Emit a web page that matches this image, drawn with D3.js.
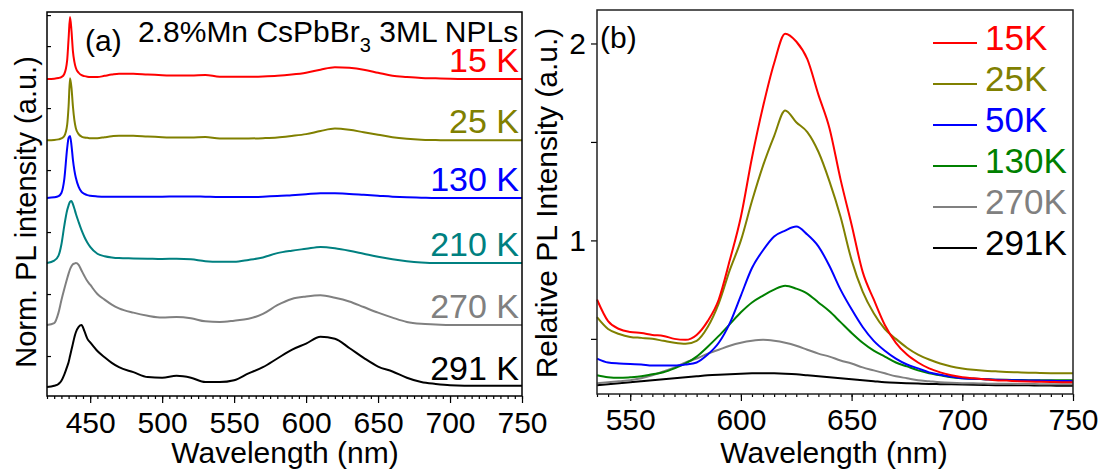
<!DOCTYPE html>
<html>
<head>
<meta charset="utf-8">
<script src="https://cdn.jsdelivr.net/npm/d3@7/dist/d3.min.js"></script>
<style>
body { margin: 0; background: #fff; }
svg { font-family: "Liberation Sans", Arial, sans-serif; }
</style>
</head>
<body>
<div id="visHolder"></div>
<script>
// ---- panel (a): normalised PL, stacked ----
const wlA = [420, 425, 428, 430, 432, 434, 435, 436, 437, 438,
             439, 440, 442, 444, 446, 448, 450, 455, 460, 465,
             470, 480, 490, 500, 510, 520, 530, 540, 550, 560,
             570, 580, 590, 600, 610, 620, 630, 640, 650, 660,
             670, 680, 690, 700, 720, 750];
const a15 = [0, 0.005, 0.015, 0.03, 0.08, 0.3, 0.65, 1.0, 0.78, 0.45,
             0.28, 0.18, 0.1, 0.06, 0.045, 0.035, 0.03, 0.03, 0.05, 0.07,
             0.085, 0.085, 0.07, 0.06, 0.055, 0.055, 0.065, 0.035, 0.035, 0.035,
             0.04, 0.05, 0.07, 0.1, 0.15, 0.19, 0.18, 0.15, 0.1, 0.05,
             0.03, 0.015, 0.01, 0.005, 0, 0];
const a25 = [0, 0.005, 0.015, 0.03, 0.07, 0.25, 0.55, 1.0, 0.85, 0.55,
             0.33, 0.2, 0.1, 0.06, 0.045, 0.04, 0.035, 0.035, 0.05, 0.065,
             0.075, 0.075, 0.06, 0.05, 0.045, 0.045, 0.055, 0.03, 0.03, 0.03,
             0.035, 0.045, 0.07, 0.1, 0.15, 0.19, 0.17, 0.13, 0.09, 0.05,
             0.025, 0.01, 0.005, 0, 0, 0];
const a130 = [0, 0.01, 0.03, 0.08, 0.3, 0.8, 0.97, 1.0, 0.85, 0.62,
              0.45, 0.33, 0.18, 0.1, 0.065, 0.045, 0.035, 0.025, 0.02, 0.02,
              0.02, 0.02, 0.02, 0.02, 0.025, 0.025, 0.02, 0.015, 0.015, 0.015,
              0.02, 0.03, 0.045, 0.06, 0.075, 0.075, 0.065, 0.05, 0.035, 0.02,
              0.01, 0.005, 0, 0, 0, 0];
const a210 = [0, 0.04, 0.12, 0.3, 0.6, 0.85, 0.93, 0.99, 1.0, 0.95,
              0.88, 0.8, 0.66, 0.53, 0.42, 0.33, 0.26, 0.15, 0.11, 0.09,
              0.08, 0.075, 0.07, 0.065, 0.07, 0.06, 0.03, 0.02, 0.02, 0.05,
              0.09, 0.16, 0.2, 0.23, 0.26, 0.24, 0.2, 0.15, 0.1, 0.06,
              0.03, 0.01, 0, 0, 0, 0];
const a270 = [0, 0.03, 0.2, 0.4, 0.58, 0.75, 0.83, 0.9, 0.95, 0.98,
              0.99, 1.0, 0.97, 0.88, 0.79, 0.71, 0.65, 0.5, 0.41, 0.33,
              0.27, 0.2, 0.15, 0.12, 0.13, 0.11, 0.06, 0.05, 0.07, 0.1,
              0.18, 0.32, 0.42, 0.46, 0.48, 0.44, 0.38, 0.29, 0.2, 0.12,
              0.05, 0.02, 0.01, 0, 0, 0];
const a291 = [0, 0.02, 0.05, 0.1, 0.2, 0.33, 0.4, 0.5, 0.6, 0.7,
              0.8, 0.88, 0.97, 1.0, 0.9, 0.78, 0.72, 0.58, 0.48, 0.39,
              0.32, 0.24, 0.16, 0.15, 0.18, 0.15, 0.08, 0.08, 0.11, 0.22,
              0.32, 0.46, 0.6, 0.7, 0.81, 0.78, 0.63, 0.47, 0.33, 0.25,
              0.15, 0.08, 0.05, 0.03, 0.02, 0.02];
const tempsA = ["15 K", "25 K", "130 K", "210 K", "270 K", "291 K"];
const offsetsA = [4.97, 3.98, 3.05, 2.0, 1.0, 0];
const xTicksA = [450, 500, 550, 600, 650, 700, 750];
const yTicksA = [0.5, 1.5, 2.5, 3.5, 4.5, 5.5, 6.0];

// ---- panel (b): relative PL ----
const wlB = d3.range(535, 751, 5);
const b15 = [0.70, 0.59, 0.55, 0.535, 0.53, 0.52, 0.515, 0.50, 0.495, 0.52,
             0.59, 0.70, 0.90, 1.12, 1.42, 1.68, 1.90, 2.05, 2.01, 1.92,
             1.74, 1.57, 1.31, 1.08, 0.84, 0.70, 0.57, 0.48, 0.42, 0.38,
             0.35, 0.33, 0.315, 0.305, 0.30, 0.295, 0.29, 0.288, 0.285, 0.283,
             0.282, 0.281, 0.28, 0.28];
const b25 = [0.61, 0.55, 0.525, 0.51, 0.505, 0.50, 0.49, 0.48, 0.475, 0.49,
             0.56, 0.68, 0.85, 1.00, 1.20, 1.38, 1.53, 1.66, 1.60, 1.55,
             1.45, 1.30, 1.12, 0.90, 0.74, 0.63, 0.55, 0.50, 0.455, 0.42,
             0.395, 0.375, 0.36, 0.35, 0.343, 0.338, 0.335, 0.332, 0.33, 0.328,
             0.327, 0.326, 0.325, 0.325];
const b50 = [0.40, 0.38, 0.375, 0.372, 0.37, 0.365, 0.365, 0.365, 0.37, 0.38,
             0.42, 0.48, 0.58, 0.72, 0.86, 0.95, 1.02, 1.05, 1.07, 1.03,
             0.97, 0.87, 0.75, 0.65, 0.56, 0.49, 0.44, 0.40, 0.37, 0.35,
             0.33, 0.318, 0.308, 0.30, 0.297, 0.295, 0.293, 0.291, 0.29, 0.289,
             0.288, 0.287, 0.286, 0.285];
const b130 = [0.315, 0.305, 0.302, 0.305, 0.31, 0.32, 0.33, 0.35, 0.375, 0.41,
              0.46, 0.515, 0.575, 0.635, 0.685, 0.72, 0.75, 0.77, 0.755, 0.73,
              0.685, 0.64, 0.585, 0.53, 0.48, 0.44, 0.41, 0.38, 0.36, 0.34,
              0.325, 0.315, 0.305, 0.30, 0.297, 0.295, 0.293, 0.292, 0.291, 0.29,
              0.29, 0.29, 0.29, 0.29];
const b270 = [0.275, 0.28, 0.285, 0.29, 0.30, 0.315, 0.335, 0.355, 0.38, 0.40,
              0.425, 0.445, 0.465, 0.48, 0.49, 0.495, 0.49, 0.48, 0.465, 0.445,
              0.425, 0.41, 0.39, 0.375, 0.355, 0.34, 0.325, 0.31, 0.30, 0.29,
              0.285, 0.28, 0.277, 0.275, 0.274, 0.273, 0.272, 0.272, 0.271, 0.271,
              0.27, 0.27, 0.27, 0.27];
const b291 = [0.265, 0.27, 0.275, 0.28, 0.285, 0.29, 0.295, 0.30, 0.305, 0.31,
              0.315, 0.318, 0.32, 0.323, 0.325, 0.326, 0.325, 0.323, 0.32, 0.315,
              0.31, 0.305, 0.30, 0.295, 0.29, 0.285, 0.28, 0.277, 0.275, 0.273,
              0.271, 0.27, 0.269, 0.268, 0.267, 0.266, 0.265, 0.265, 0.264, 0.264,
              0.263, 0.263, 0.262, 0.262];
const tempsB = ["15K", "25K", "50K", "130K", "270K", "291K"];
const xTicksB = [550, 600, 650, 700, 750];
const yTicksB = [0.5, 1, 1.5, 2];

const colorsA = ["#ff0000", "#808000", "#0000ff", "#008080", "#808080", "#000000"];
const colorsB = ["#ff0000", "#808000", "#0000ff", "#008000", "#808080", "#000000"];

let width = 1102,
    height = 469;

let svg = d3.select("#visHolder")
    .append("svg")
    .attr("width", width)
    .attr("height", height);

// ================= panel (a) =================
let xA = d3.scaleLinear().domain([420, 750]).range([47, 522]);
let yA = d3.scaleLinear().domain([-0.145, 6.05]).range([396, 12]);

let lineA = d3.line().curve(d3.curveMonotoneX);
let seriesA = [a15, a25, a130, a210, a270, a291];

svg.append("g")
    .selectAll("path")
    .data(seriesA)
    .enter()
    .append("path")
    .attr("d", (s, i) => lineA(s.map((v, j) => [xA(wlA[j]), yA(v + offsetsA[i])])))
    .attr("fill", "none")
    .attr("stroke", (s, i) => colorsA[i])
    .attr("stroke-width", 2);

// minor x ticks
svg.append("g")
    .attr("transform", "translate(0,396)")
    .call(d3.axisBottom(xA).tickValues(d3.range(420, 751, 5)).tickSize(3).tickFormat(""))
    .call(g => g.select(".domain").remove());

svg.append("g")
    .attr("class", "axis")
    .attr("transform", "translate(0,396)")
    .call(d3.axisBottom(xA).tickValues(xTicksA).tickSize(7).tickPadding(9))
    .call(g => g.select(".domain").remove());

svg.append("g")
    .attr("transform", "translate(47,0)")
    .call(d3.axisLeft(yA).tickValues(yTicksA).tickSize(-4).tickFormat(""))
    .call(g => g.select(".domain").remove());

svg.append("rect")
    .attr("x", 47).attr("y", 12)
    .attr("width", 522 - 47).attr("height", 396 - 12)
    .attr("fill", "none").attr("stroke", "#000").attr("stroke-width", 1.5);

svg.append("g")
    .selectAll("text")
    .data(tempsA)
    .enter()
    .append("text")
    .attr("x", 519)
    .attr("y", (d, i) => yA(offsetsA[i]) - 7)
    .attr("text-anchor", "end")
    .attr("font-size", 34)
    .attr("fill", (d, i) => colorsA[i])
    .text(d => d);

svg.append("text")
    .attr("x", 85).attr("y", 51)
    .attr("font-size", 30)
    .text("(a)");

let title = svg.append("text")
    .attr("x", 138).attr("y", 42)
    .attr("font-size", 30);
title.append("tspan").text("2.8%Mn CsPbBr");
title.append("tspan").attr("font-size", 20).attr("dy", 10).text("3");
title.append("tspan").attr("dy", -10).text(" 3ML NPLs");

svg.append("text")
    .attr("transform", "translate(36,212) rotate(-90)")
    .attr("text-anchor", "middle")
    .attr("font-size", 29)
    .text("Norm. PL intensity (a.u.)");

svg.append("text")
    .attr("x", 285).attr("y", 463)
    .attr("text-anchor", "middle")
    .attr("font-size", 30)
    .text("Wavelength (nm)");

// ================= panel (b) =================
let xB = d3.scaleLinear().domain([535, 750]).range([597, 1073]);
let yB = d3.scaleLinear().domain([0.22, 2.17]).range([394, 10]);

let lineB = d3.line()
    .x((d, j) => xB(wlB[j]))
    .y(d => yB(d))
    .curve(d3.curveMonotoneX);
let seriesB = [b15, b25, b50, b130, b270, b291];

svg.append("g")
    .selectAll("path")
    .data(seriesB.slice().reverse())
    .enter()
    .append("path")
    .attr("d", s => lineB(s))
    .attr("fill", "none")
    .attr("stroke", (s, i) => colorsB[colorsB.length - 1 - i])
    .attr("stroke-width", 2);

svg.append("g")
    .attr("transform", "translate(0,394)")
    .call(d3.axisBottom(xB).tickValues(d3.range(535, 751, 5)).tickSize(3).tickFormat(""))
    .call(g => g.select(".domain").remove());

svg.append("g")
    .attr("class", "axis")
    .attr("transform", "translate(0,394)")
    .call(d3.axisBottom(xB).tickValues(xTicksB).tickSize(7).tickPadding(8))
    .call(g => g.select(".domain").remove());

svg.append("g")
    .attr("class", "axis")
    .attr("transform", "translate(597,0)")
    .call(d3.axisLeft(yB).tickValues(yTicksB).tickSize(6).tickPadding(5)
        .tickFormat(d => Number.isInteger(d) ? d : ""))
    .call(g => g.select(".domain").remove());

svg.append("rect")
    .attr("x", 597).attr("y", 10)
    .attr("width", 1073 - 597).attr("height", 394 - 10)
    .attr("fill", "none").attr("stroke", "#222").attr("stroke-width", 1.5);

svg.append("text")
    .attr("x", 600).attr("y", 48)
    .attr("font-size", 30)
    .text("(b)");

let legend = svg.append("g")
    .selectAll("g")
    .data(tempsB)
    .enter()
    .append("g")
    .attr("transform", (d, i) => "translate(933," + (43 + i * 41) + ")");
legend.append("line")
    .attr("x1", 0).attr("x2", 44)
    .attr("stroke", (d, i) => colorsB[i])
    .attr("stroke-width", 2);
legend.append("text")
    .attr("x", 52).attr("y", 7)
    .attr("font-size", 35)
    .attr("fill", (d, i) => colorsB[i])
    .text(d => d);

svg.append("text")
    .attr("transform", "translate(557,203) rotate(-90)")
    .attr("text-anchor", "middle")
    .attr("font-size", 30)
    .text("Relative PL Intensity (a.u.)");

svg.append("text")
    .attr("x", 834).attr("y", 463)
    .attr("text-anchor", "middle")
    .attr("font-size", 30)
    .text("Wavelength (nm)");

svg.selectAll(".axis text")
    .attr("font-size", 30)
    .attr("font-family", "Liberation Sans, Arial, sans-serif")
    .attr("fill", "#000");
svg.selectAll(".tick line").attr("stroke", "#000").attr("stroke-width", 1.2);
</script>
</body>
</html>
